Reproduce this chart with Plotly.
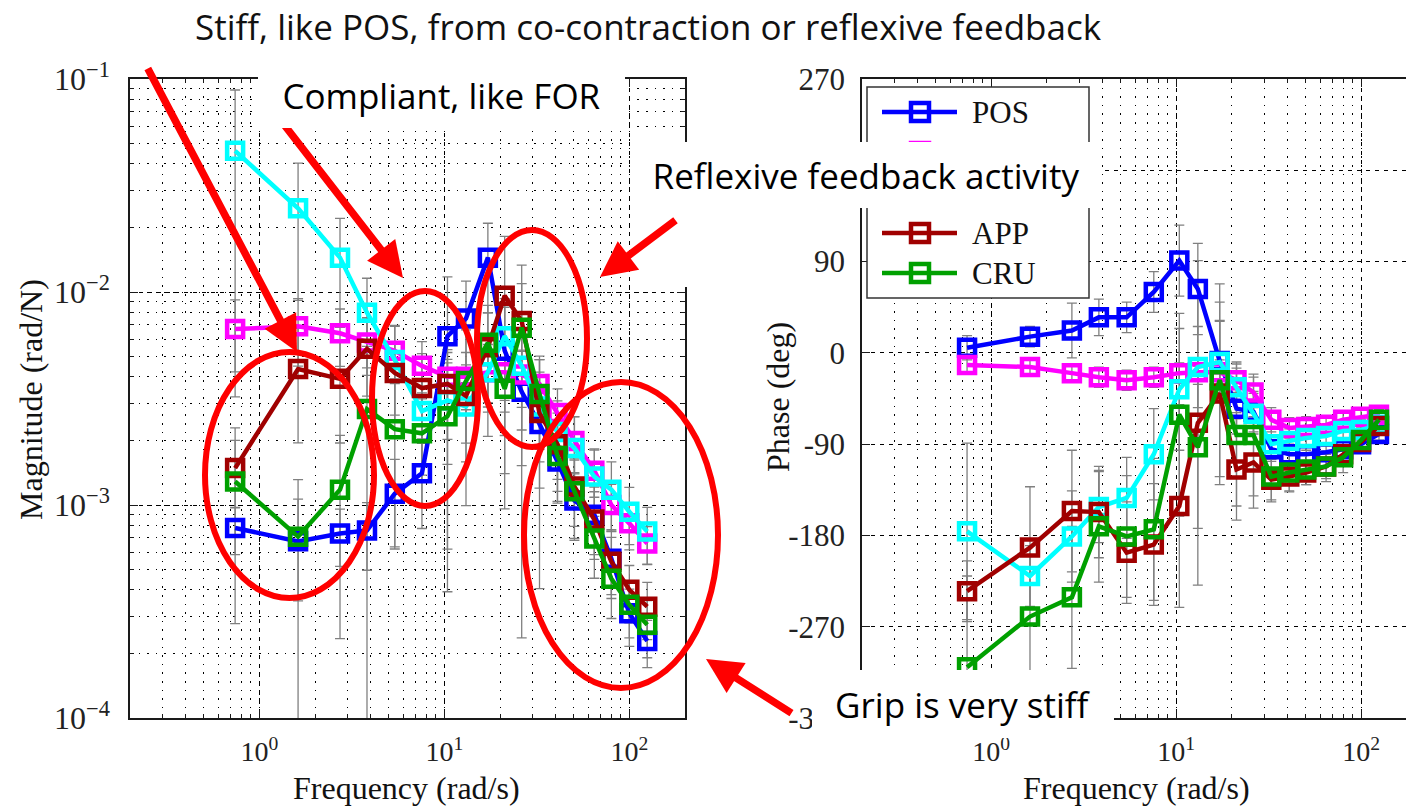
import math
import plotly.graph_objects as go

W, H = 1406, 810

# ---------------- data ----------------
freq = [0.74, 1.62, 2.73, 3.82, 5.4, 7.57, 10.4, 13.1, 17.2, 21.2, 26.2,
        32.7, 40.9, 50.5, 64.7, 80.0, 100.0, 125.0]

tasks = ["POS", "REL", "FOR", "APP", "CRU"]
colors = ["#0000FF", "#FF00FF", "#00FFFF", "#A00000", "#00A000"]

# magnitude (rad/N)
mag_pos = [7.8e-4, 6.75e-4, 7.35e-4, 7.6e-4, 1.13e-3, 1.41e-3, 6.2e-3, 7.5e-3, 1.45e-2,
           5.3e-3, 3.4e-3, 2.4e-3, 1.6e-3, 1.05e-3, 9.0e-4, 5.6e-4, 3.1e-4, 2.3e-4]
mag_rel = [6.7e-3, 6.9e-3, 6.4e-3, 5.8e-3, 5.3e-3, 4.5e-3, 4.0e-3, 4.0e-3, 4.2e-3,
           4.2e-3, 4.1e-3, 3.7e-3, 2.7e-3, 2.0e-3, 1.45e-3, 1.0e-3, 8.2e-4, 6.6e-4]
mag_for = [4.6e-2, 2.47e-2, 1.45e-2, 8.0e-3, 4.8e-3, 2.76e-3, 3.1e-3, 2.9e-3, 4.2e-3,
           6.2e-3, 4.5e-3, 2.9e-3, 2.2e-3, 1.85e-3, 1.36e-3, 1.18e-3, 9.3e-4, 7.5e-4]
mag_app = [1.49e-3, 4.35e-3, 3.91e-3, 5.41e-3, 4.17e-3, 3.54e-3, 3.7e-3, 3.25e-3, 5.5e-3,
           9.6e-3, 7.3e-3, 2.7e-3, 1.93e-3, 1.22e-3, 8.55e-4, 5.42e-4, 4.0e-4, 3.33e-4]
mag_cru = [1.29e-3, 7.1e-4, 1.18e-3, 2.82e-3, 2.27e-3, 2.17e-3, 2.61e-3, 3.82e-3, 5.77e-3,
           3.51e-3, 6.8e-3, 3.32e-3, 1.70e-3, 1.16e-3, 6.97e-4, 4.51e-4, 3.40e-4, 2.74e-4]

# relative standard deviation of the magnitude
mag_pos_sd = [0.25, 0.95, 0.3, 0.35, 0.45, 0.45, 0.9, 0.5, 0.45, 0.6, 0.55, 0.5, 0.35, 0.35, 0.35, 0.35, 0.3, 0.25]
mag_rel_sd = [0.37, 0.35, 0.3, 0.3, 0.3, 0.3, 0.3, 0.3, 0.35, 0.35, 0.3, 0.3, 0.3, 0.3, 0.25, 0.25, 0.25, 0.2]
mag_for_sd = [0.93, 0.63, 0.53, 0.45, 0.45, 0.5, 0.5, 0.45, 0.5, 0.5, 0.5, 0.45, 0.4, 0.4, 0.35, 0.35, 0.3, 0.3]
mag_app_sd = [0.35, 0.55, 0.5, 0.4, 0.4, 0.45, 0.45, 0.4, 0.45, 0.9, 0.5, 0.85, 0.4, 0.35, 0.35, 0.3, 0.3, 0.3]
mag_cru_sd = [0.785, 0.5, 0.8, 0.97, 0.72, 0.55, 0.85, 0.74, 0.5, 0.6, 0.965, 0.45, 0.4, 0.4, 0.35, 0.35, 0.3, 0.3]

# phase (deg)
ph_pos = [5, 16, 22, 35, 35, 60, 91, 63, -8, -55, -58, -95, -100, -100, -98, -95, -90, -80]
ph_rel = [-12, -14, -20, -24, -27, -24, -20, -19, -19, -27, -39, -66, -74, -73, -71, -66, -63, -61]
ph_for = [-176, -220, -181, -152, -143, -100, -36, -14, -9, -34, -60, -90, -87, -84, -82, -77, -76, -71]
ph_app = [-235, -192, -156, -157, -197, -189, -151, -69, -40, -115, -108, -125, -122, -118, -112, -100, -88, -72]
ph_cru = [-310, -260, -241, -171, -181, -174, -61, -93, -27, -81, -81, -122, -118, -115, -112, -103, -86, -66]

# phase standard deviation (deg)
ph_pos_sd = [12, 10, 27, 18, 15, 20, 35, 45, 40, 25, 20, 12, 10, 8, 8, 8, 8, 6]
ph_rel_sd = [8, 8, 8, 10, 10, 10, 10, 12, 12, 12, 15, 12, 10, 10, 8, 8, 8, 6]
ph_for_sd = [87, 30, 45, 35, 40, 45, 60, 40, 40, 25, 20, 15, 12, 12, 10, 10, 10, 8]
ph_app_sd = [30, 60, 60, 45, 50, 60, 100, 160, 90, 50, 45, 20, 15, 12, 12, 12, 10, 8]
ph_cru_sd = [90, 60, 70, 55, 60, 70, 100, 80, 95, 70, 60, 25, 18, 15, 15, 15, 12, 10]

mags = [mag_pos, mag_rel, mag_for, mag_app, mag_cru]
mag_sds = [mag_pos_sd, mag_rel_sd, mag_for_sd, mag_app_sd, mag_cru_sd]
phases = [ph_pos, ph_rel, ph_for, ph_app, ph_cru]
ph_sds = [ph_pos_sd, ph_rel_sd, ph_for_sd, ph_app_sd, ph_cru_sd]

phase_ticks = [-360, -270, -180, -90, 0, 90, 180, 270]


# ---------------- helpers for paper placement ----------------
def px(x):
    return x / W


def py(y):
    return 1 - y / H


SERIF = "Liberation Serif"
SANS = "Open Sans"
ERR_COLOR = "#808080"
RED = "#FF0000"

fig = go.Figure()

# error bars first so that lines and markers sit on top
for vals, sds in zip(mags, mag_sds):
    err = [v * s for v, s in zip(vals, sds)]
    fig.add_trace(go.Scatter(
        x=freq, y=vals, mode="markers", marker=dict(size=1, opacity=0),
        error_y=dict(type="data", array=err, arrayminus=err, color=ERR_COLOR,
                     thickness=1.3, width=5),
        xaxis="x", yaxis="y", showlegend=False, hoverinfo="skip"))
for vals, sds in zip(phases, ph_sds):
    fig.add_trace(go.Scatter(
        x=freq, y=vals, mode="markers", marker=dict(size=1, opacity=0),
        error_y=dict(type="data", array=sds, arrayminus=sds, color=ERR_COLOR,
                     thickness=1.3, width=5),
        xaxis="x2", yaxis="y2", showlegend=False, hoverinfo="skip"))

marker_style = dict(symbol="square-open", size=16)
for name, col, vals in zip(tasks, colors, mags):
    fig.add_trace(go.Scatter(
        x=freq, y=vals, mode="lines+markers", name=name,
        line=dict(color=col, width=4.5),
        marker=dict(color=col, line=dict(color=col, width=4.5), **marker_style),
        xaxis="x", yaxis="y", showlegend=False))
for name, col, vals in zip(tasks, colors, phases):
    fig.add_trace(go.Scatter(
        x=freq, y=vals, mode="lines+markers", name=name,
        line=dict(color=col, width=4.5),
        marker=dict(color=col, line=dict(color=col, width=4.5), **marker_style),
        xaxis="x2", yaxis="y2", showlegend=False))

# ---------------- axes ----------------
frame = dict(showline=True, linecolor="#1a1a1a", linewidth=1.5, zeroline=False,
             ticks="inside", ticklen=8, tickwidth=1, tickcolor="#1a1a1a",
             automargin=False)
major_grid = dict(showgrid=True, gridcolor="#000000", gridwidth=1, griddash="4px,5px")
minor_log = dict(dtick="D1", ticks="inside", ticklen=4, tickcolor="#1a1a1a",
                 showgrid=True, gridcolor="#000000", gridwidth=1, griddash="1.6px,7px")

dom_y = [py(718), py(79)]

fig.update_layout(
    xaxis=dict(type="log", range=[math.log10(0.2), math.log10(200)],
               domain=[px(130), px(685)], anchor="y", mirror="allticks",
               tickvals=[1, 10, 100],
               ticktext=["10<sup>0</sup>", "10<sup>1</sup>", "10<sup>2</sup>"],
               tickfont=dict(family=SERIF, size=28, color="#222"),
               ticklabelstandoff=8, minor=minor_log, **frame, **major_grid),
    yaxis=dict(type="log", range=[-4, -1], domain=dom_y, anchor="x", mirror="allticks",
               tickvals=[1e-4, 1e-3, 1e-2, 1e-1],
               ticktext=["10<sup>\u22124</sup>", "10<sup>\u22123</sup>",
                         "10<sup>\u22122</sup>", "10<sup>\u22121</sup>"],
               tickfont=dict(family=SERIF, size=32, color="#222"),
               ticklabelstandoff=12, minor=minor_log, **frame, **major_grid),
    xaxis2=dict(type="log", range=[math.log10(0.2), math.log10(175)],
                domain=[px(862), 1.0], anchor="y2", mirror="allticks",
                tickvals=[1, 10, 100],
                ticktext=["10<sup>0</sup>", "10<sup>1</sup>", "10<sup>2</sup>"],
                tickfont=dict(family=SERIF, size=28, color="#222"),
                ticklabelstandoff=8, minor=minor_log, **frame, **major_grid),
    yaxis2=dict(range=[-360, 270], domain=dom_y, anchor="x2", mirror=False,
                tickvals=phase_ticks, ticktext=[str(v) for v in phase_ticks],
                tickfont=dict(family=SERIF, size=31, color="#222"),
                ticklabelstandoff=9, **frame, **major_grid),
)

# ---------------- shapes: legend box, highlight ellipses ----------------
shapes = []

# white space behind the arrow pointing at the feedback peak
shapes.append(dict(type="rect", xref="paper", yref="paper", layer="above",
                   x0=px(633), x1=px(692), y0=py(287), y1=py(205),
                   fillcolor="white", line=dict(width=0)))

# legend frame
shapes.append(dict(type="rect", xref="paper", yref="paper", layer="above",
                   x0=px(867), x1=px(1089), y0=py(298), y1=py(87),
                   fillcolor="white", line=dict(color="#333333", width=1.5)))
legend_rows = [112, 152, 192, 233, 273]
for col, yy in zip(colors, legend_rows):
    shapes.append(dict(type="line", xref="paper", yref="paper", layer="above",
                       x0=px(882), x1=px(957), y0=py(yy), y1=py(yy),
                       line=dict(color=col, width=4.5)))
    shapes.append(dict(type="rect", xref="paper", yref="paper", layer="above",
                       x0=px(911), x1=px(929), y0=py(yy + 9), y1=py(yy - 9),
                       line=dict(color=col, width=4.5)))

ellipses = [(205, 374, 352, 598), (372, 478, 291, 506), (477, 587, 230, 447), (524, 718, 382, 688)]
for x0, x1, y0, y1 in ellipses:
    shapes.append(dict(type="circle", xref="paper", yref="paper", layer="above",
                       x0=px(x0), x1=px(x1), y0=py(y1), y1=py(y0),
                       line=dict(color=RED, width=6)))
fig.update_layout(shapes=shapes)

# ---------------- annotations ----------------
ann = []


def label(text, x, y, size, family=SERIF, angle=0, xanchor="center"):
    return dict(text=text, x=px(x), y=py(y), xref="paper", yref="paper",
                showarrow=False, textangle=angle, xanchor=xanchor, yanchor="middle",
                font=dict(family=family, size=size, color="#111"))


ann.append(label("Magnitude (rad/N)", 31, 400, 32, angle=-90))
ann.append(label("Phase (deg)", 778, 397, 32, angle=-90))
ann.append(label("Frequency (rad/s)", 406, 788, 32))
ann.append(label("Frequency (rad/s)", 1136, 788, 32))

for name, yy in zip(tasks, legend_rows):
    ann.append(label(name, 970, yy, 31, xanchor="left"))

# arrows: (tail x, tail y, tip x, tip y)
arrows = [(147, 67, 297, 352), (282, 122, 403, 278), (677, 219, 600, 277), (793, 714, 706, 659)]
for tx, ty, hx, hy in arrows:
    ann.append(dict(text="", x=px(hx), y=py(hy), xref="paper", yref="paper",
                    ax=tx - hx, ay=ty - hy, axref="pixel", ayref="pixel",
                    showarrow=True, arrowhead=2, arrowsize=0.95, arrowwidth=7.5,
                    arrowcolor=RED, standoff=0, startstandoff=0))


def box(text, x0, x1, y0, y1):
    return dict(text=text, x=px((x0 + x1) / 2), y=py((y0 + y1) / 2),
                xref="paper", yref="paper", showarrow=False,
                width=x1 - x0, height=y1 - y0, bgcolor="white", borderpad=0,
                borderwidth=0, align="center", valign="middle",
                xanchor="center", yanchor="middle",
                font=dict(family=SANS, size=35, color="#000"))


ann.append(box("Compliant, like FOR", 258, 625, 62, 128))
ann.append(box("Reflexive feedback activity", 632, 1100, 142, 208))
ann.append(box("Grip is very stiff", 812, 1114, 670, 738))
ann.append(label("Stiff, like POS, from co-contraction or reflexive feedback",
                 648, 27, 35, family=SANS))

fig.update_layout(
    annotations=ann,
    width=W, height=H, margin=dict(l=0, r=0, t=0, b=0, pad=0, autoexpand=False),
    paper_bgcolor="white", plot_bgcolor="white", showlegend=False,
)

fig.write_html("out.html")
